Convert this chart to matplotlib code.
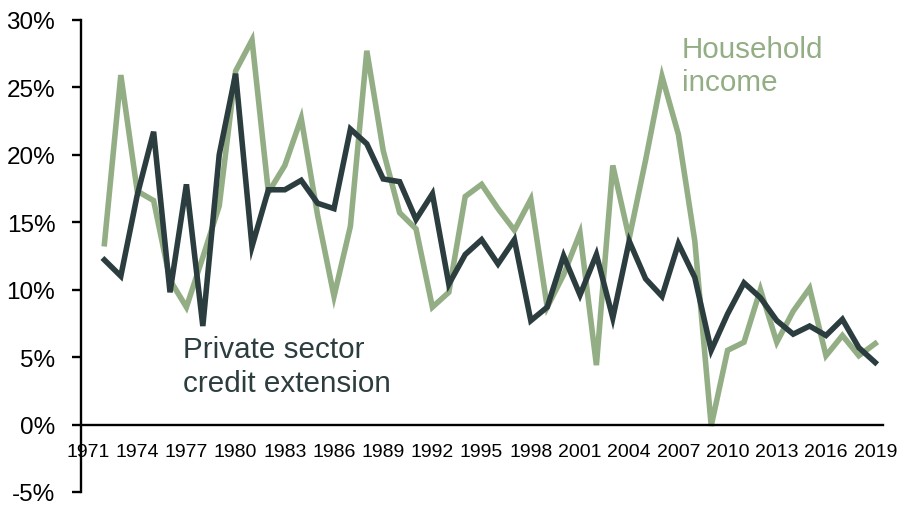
import numpy as np
import matplotlib
matplotlib.use("Agg")
import matplotlib.pyplot as plt
from matplotlib.ticker import FuncFormatter

# ----------
# Data (annual growth, %)
years = list(range(1972, 2020))

credit = [12.2, 11.0, 17.0, 21.7, 9.8, 17.8, 7.3, 20.0, 26.0, 13.2,
          17.4, 17.4, 18.1, 16.4, 16.0, 21.9, 20.8, 18.2, 18.0, 15.2,
          17.1, 10.4, 12.6, 13.7, 11.9, 13.7, 7.7, 8.7, 12.5, 9.6,
          12.6, 7.9, 13.6, 10.8, 9.5, 13.4, 10.9, 5.5, 8.2, 10.5,
          9.4, 7.7, 6.7, 7.3, 6.6, 7.8, 5.7, 4.6]

household = [13.4, 25.9, 17.3, 16.6, 10.7, 8.7, 12.4, 16.2, 26.2, 28.5,
             17.2, 19.2, 22.7, 15.5, 9.5, 14.7, 27.7, 20.3, 15.7, 14.5,
             8.7, 9.8, 16.9, 17.8, 16.0, 14.4, 16.7, 8.7, 11.1, 14.2,
             4.4, 19.2, 13.8, 19.6, 25.8, 21.5, 13.6, -0.1, 5.5, 6.1,
             10.0, 6.1, 8.4, 10.1, 5.1, 6.6, 5.1, 6.0]

xticks = list(range(1971, 2020, 3))
yticks = [-5, 0, 5, 10, 15, 20, 25, 30]

dark = '#2c3d3f'
green = '#93ae84'

plt.rcParams['font.family'] = ['Liberation Sans', 'DejaVu Sans']

fig = plt.figure(figsize=(9.17, 5.06), dpi=100)
ax = fig.add_axes([0.0883, 0.0257, 0.963 - 0.0883, 0.959 - 0.0257])

ax.plot(years, credit, color=dark, lw=4.0, solid_joinstyle='miter', zorder=3)
ax.plot(years, household, color=green, lw=4.0, solid_joinstyle='miter', zorder=2)

ax.set_xlim(1970.57, 2019.48)
ax.set_ylim(-5, 30)

# Axis lines: left spine and a zero line as bottom
ax.spines['right'].set_visible(False)
ax.spines['top'].set_visible(False)
ax.spines['bottom'].set_position(('data', 0))
ax.spines['left'].set_linewidth(1.7)
ax.spines['bottom'].set_linewidth(1.7)

ax.set_xticks(xticks)
ax.set_xticklabels([str(y) for y in xticks])
ax.set_yticks(yticks)
ax.yaxis.set_major_formatter(FuncFormatter(lambda v, p: '%d%%' % v))

ax.tick_params(axis='x', length=0, pad=13, labelsize=14)
ax.tick_params(axis='y', direction='out', length=6.5, width=1.7, pad=12, labelsize=17.5)

# Series labels
ax.text(2007.2, 28.9, "Household\nincome", color=green, fontsize=21.3,
        va='top', ha='left', linespacing=1.25)
ax.text(1976.8, 6.6, "Private sector\ncredit extension", color=dark, fontsize=21.3,
        va='top', ha='left', linespacing=1.25)

plt.savefig('out.png', dpi=100, facecolor='white')
